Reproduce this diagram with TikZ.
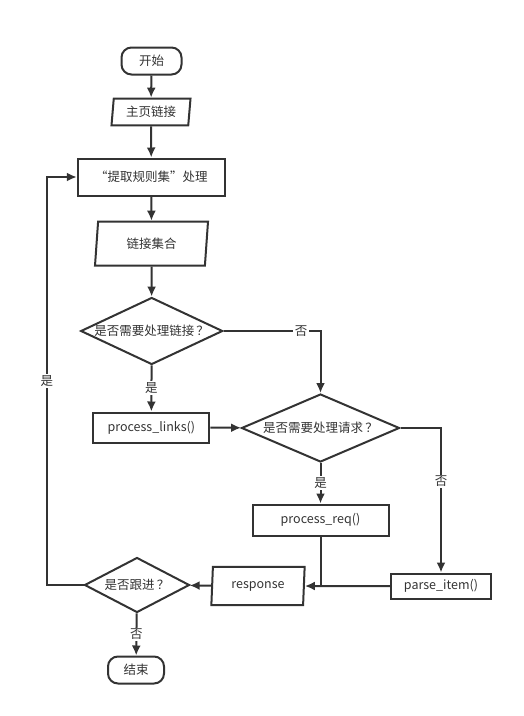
\documentclass[tikz,border=0pt]{standalone}
\usepackage{fontspec}
\setmainfont{Noto Sans CJK SC}
\usetikzlibrary{arrows.meta,shapes.geometric}
\definecolor{ink}{HTML}{333333}
\tikzset{font=\fontsize{12.5}{15}\selectfont}
\tikzset{every node/.append style={text=ink, inner sep=0pt}}
\tikzset{>={Latex[length=10pt,width=9pt]}}
\tikzset{terminal/.style={draw, rounded corners=10pt, minimum width=#1, minimum height=27pt}}
\tikzset{proc/.style={draw, rectangle, minimum width=#1}}
\tikzset{io/.style 2 args={draw, trapezium, trapezium stretches body,
    trapezium left angle=#1, trapezium right angle=#2}}
\tikzset{decide/.style={draw, diamond, aspect=2.1}}
\tikzset{lbl/.style={fill=white, inner sep=1.5pt}}

\begin{document}
\begin{tikzpicture}[x=1pt, y=-1pt, line width=2pt, draw=ink]
  \useasboundingbox (0,0) rectangle (523,716);

  \node[terminal=60pt] (start) at (151.5,61) {开始};
  \node[io={79}{101}, minimum width=79pt, minimum height=26.7pt] (home) at (151,112) {主页链接};
  \node[proc=147pt, minimum height=37pt] (rules) at (151.3,177) {“提取规则集”处理};
  \node[io={75}{105}, minimum width=113pt, minimum height=44pt] (links) at (151.5,243.7) {链接集合};
  \node[decide, minimum width=142pt, minimum height=67pt] (needlinks) at (151.7,331) {是否需要处理链接\,？};
  \node[proc=116pt, minimum height=30pt] (proclinks) at (151.3,427.5) {process\_links()};
  \node[decide, minimum width=158pt, minimum height=68pt] (needreq) at (320.5,428) {是否需要处理请求\,？};
  \node[proc=136pt, minimum height=31pt] (procreq) at (320.5,520) {process\_req()};
  \node[proc=100pt, minimum height=25pt] (parse) at (441,586) {parse\_item()};
  \node[io={81}{99}, minimum width=93.3pt, minimum height=38.3pt] (resp) at (258,586) {response};
  \node[decide, minimum width=105pt, minimum height=55pt] (follow) at (137,585) {是否跟进\,？};
  \node[terminal=56pt] (stop) at (136,670) {结束};

  \coordinate (back) at (47,0);

  \draw[->] (start) -- (home);
  \draw[->] (home) -- (rules);
  \draw[->] (rules) -- (links);
  \draw[->] (links) -- (needlinks);
  \draw[->] (needlinks) -- node[lbl]{是} (proclinks);
  \draw[->] (needlinks.east) -- node[lbl, pos=.8]{否} (needlinks.east -| needreq.north) -- (needreq.north);
  \draw[->] (proclinks) -- (needreq);
  \draw[->] (needreq) -- node[lbl]{是} (procreq);
  \draw[->] (needreq.east) -| node[lbl, pos=.685]{否} (parse.north);
  \draw (procreq.south) -- (procreq.south |- resp.east);
  \draw[->] (parse) -- (resp);
  \draw[->] (resp) -- (follow);
  \draw[->] (follow.west) -- (follow.west -| back) -- node[lbl]{是} (rules.west -| back) -- (rules.west);
  \draw[->] (follow) -- node[lbl]{否} (stop);

\end{tikzpicture}
\end{document}
